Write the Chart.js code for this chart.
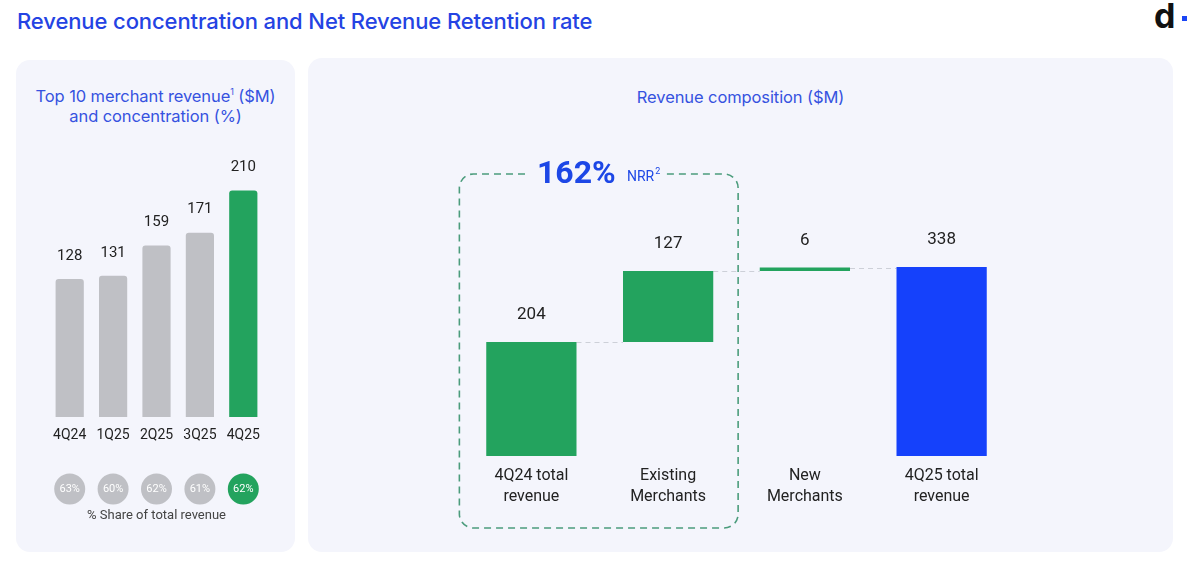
<!DOCTYPE html>
<html>
<head>
<meta charset="utf-8">
<script src="https://cdn.jsdelivr.net/npm/chart.js@4.4.1/dist/chart.umd.min.js"></script>
<style>
  html, body { margin:0; padding:0; background:#fff; width:1200px; height:567px; overflow:hidden; }
  body { position:relative; font-family: Roboto, "Noto Sans", sans-serif; }
  .title { position:absolute; left:17px; top:8px; font-family: Inter, sans-serif; font-weight:500; font-size:22px; color:#2443e3; letter-spacing:-0.1px; }
  .logo { position:absolute; left:1154px; top:-5px; font-family: Inter, sans-serif; font-weight:700; font-size:34px; color:#111; }
  .logo i { position:absolute; left:28px; top:21px; width:5px; height:5px; background:#1a45f5; }
  .panel { position:absolute; background:#f4f5fc; border-radius:14px; }
  .ptitle { position:absolute; text-align:center; font-family: Inter, sans-serif; font-size:16.5px; line-height:20px; color:#3652e0; letter-spacing:-0.1px; }
  .ptitle sup { font-size:9px; vertical-align:7px; line-height:0; }
  canvas { position:absolute; }
</style>
</head>
<body>
<div class="title">Revenue concentration and Net Revenue Retention rate</div>
<div class="logo">d<i></i></div>

<div class="panel" style="left:16px;top:60px;width:279px;height:492px;"></div>
<div class="panel" style="left:308px;top:58px;width:865px;height:494px;"></div>

<div class="ptitle" style="left:16px;top:86px;width:279px;">Top 10 merchant revenue<sup>1</sup> ($M)<br>and concentration (%)</div>
<div class="ptitle" style="left:308px;top:87px;width:865px;">Revenue composition ($M)</div>

<canvas id="left" style="left:16px;top:60px;width:279px;height:492px;"></canvas>
<canvas id="right" style="left:308px;top:58px;width:865px;height:494px;"></canvas>

<script>
// ---- data ----
const quarters = ["4Q24", "1Q25", "2Q25", "3Q25", "4Q25"];
const top10Revenue = [128, 131, 159, 171, 210];
const shareOfTotal = [63, 60, 62, 61, 62];

const wfLabels = [["4Q24 total", "revenue"], ["Existing", "Merchants"], ["New", "Merchants"], ["4Q25 total", "revenue"]];
const wfValues = [204, 127, 6, 338];
const wfIsTotal = [true, false, false, true];
const nrrPct = 162;

const GREEN = "#23a35e";
const GREY = "#bfc0c5";
const BLUE = "#1541fb";

// ---- left: top 10 merchants ----
const leftLabels = {
  id: "leftLabels",
  afterDatasetsDraw(chart) {
    const ctx = chart.ctx;
    const meta = chart.getDatasetMeta(0);
    const x = chart.scales.x;
    ctx.save();
    ctx.textAlign = "center";
    ctx.textBaseline = "middle";
    ctx.font = "15px Roboto";
    ctx.fillStyle = "#222";
    meta.data.forEach((bar, i) => {
      ctx.fillText(top10Revenue[i], bar.x, bar.y - 23);
    });
    // share circles
    shareOfTotal.forEach((v, i) => {
      const cx = x.getPixelForValue(i);
      ctx.beginPath();
      ctx.arc(cx, 429, 15.5, 0, Math.PI * 2);
      ctx.fillStyle = i === shareOfTotal.length - 1 ? GREEN : GREY;
      ctx.fill();
      ctx.fillStyle = "#fff";
      ctx.font = "11px Roboto";
      ctx.fillText(v + "%", cx, 429);
    });
    ctx.fillStyle = "#444";
    ctx.font = "13px Roboto";
    ctx.fillText("% Share of total revenue", (x.left + x.right) / 2, 456);
    ctx.restore();
  }
};

new Chart(document.getElementById("left"), {
  type: "bar",
  data: {
    labels: quarters,
    datasets: [{
      data: top10Revenue,
      backgroundColor: quarters.map((q, i) => i === quarters.length - 1 ? GREEN : GREY),
      borderRadius: { topLeft: 3, topRight: 3 },
      borderSkipped: "bottom",
      barPercentage: 0.65,
      categoryPercentage: 1
    }]
  },
  options: {
    responsive: false,
    animation: false,
    layout: { padding: { left: 32, right: 30, top: 87.5, bottom: 0 } },
    plugins: { legend: { display: false }, tooltip: { enabled: false } },
    scales: {
      x: {
        grid: { display: false },
        border: { display: false },
        ticks: { color: "#222", font: { family: "Roboto", size: 14 }, padding: 2 },
        afterFit: (axis) => { axis.height = 135; }
      },
      y: { display: false, min: 0, max: 250 }
    }
  },
  plugins: [leftLabels]
});

// ---- right: waterfall ----
const wfRanges = [];
let running = 0;
wfValues.forEach((v, i) => {
  if (wfIsTotal[i]) { wfRanges.push([0, v]); running = v; }
  else { wfRanges.push([running, running + v]); running += v; }
});

const wfDecor = {
  id: "wfDecor",
  beforeDatasetsDraw(chart) {
    const ctx = chart.ctx;
    const meta = chart.getDatasetMeta(0);
    const y = chart.scales.y;
    ctx.save();
    ctx.strokeStyle = "#cdd0d8";
    ctx.lineWidth = 1;
    ctx.setLineDash([5, 4]);
    for (let i = 0; i < meta.data.length - 1; i++) {
      const a = meta.data[i], b = meta.data[i + 1];
      const yy = Math.round(y.getPixelForValue(wfRanges[i][1])) + 0.5;
      ctx.beginPath();
      ctx.moveTo(a.x + a.width / 2, yy);
      ctx.lineTo(b.x - b.width / 2, yy);
      ctx.stroke();
    }
    ctx.restore();
  },
  afterDatasetsDraw(chart) {
    const ctx = chart.ctx;
    const meta = chart.getDatasetMeta(0);
    const x = chart.scales.x;
    ctx.save();
    ctx.textAlign = "center";
    ctx.textBaseline = "middle";
    ctx.font = "17px Roboto";
    ctx.fillStyle = "#222";
    meta.data.forEach((bar, i) => {
      const top = Math.min(bar.y, bar.base);
      ctx.fillText(wfValues[i], bar.x, top - 27);
    });

    // NRR dashed box around first two categories
    const l = x.getPixelForValue(0) - 72, r = x.getPixelForValue(1) + 70;
    const t = 116, b = 470, rad = 14;
    const gapL = 217, gapR = 357;
    ctx.strokeStyle = "#4b9c7c";
    ctx.lineWidth = 1.6;
    ctx.setLineDash([7, 5]);
    ctx.beginPath();
    ctx.moveTo(gapL, t);
    ctx.lineTo(l + rad, t);
    ctx.arcTo(l, t, l, t + rad, rad);
    ctx.lineTo(l, b - rad);
    ctx.arcTo(l, b, l + rad, b, rad);
    ctx.lineTo(r - rad, b);
    ctx.arcTo(r, b, r, b - rad, rad);
    ctx.lineTo(r, t + rad);
    ctx.arcTo(r, t, r - rad, t, rad);
    ctx.lineTo(gapR, t);
    ctx.stroke();
    ctx.setLineDash([]);

    ctx.fillStyle = "#1d47e6";
    ctx.font = "bold 32px Roboto";
    ctx.textAlign = "left";
    ctx.fillText(nrrPct + "%", 229, t + 1);
    ctx.font = "14px Roboto";
    ctx.fillText("NRR", 319, t + 3);
    const w = ctx.measureText("NRR").width;
    ctx.font = "9px Roboto";
    ctx.fillText("2", 319 + w + 1, t - 2);
    ctx.restore();
  }
};

new Chart(document.getElementById("right"), {
  type: "bar",
  data: {
    labels: wfLabels,
    datasets: [{
      data: wfRanges,
      backgroundColor: wfValues.map((v, i) => i === wfValues.length - 1 ? BLUE : GREEN),
      borderSkipped: false,
      barPercentage: 0.66,
      categoryPercentage: 1
    }]
  },
  options: {
    responsive: false,
    animation: false,
    layout: { padding: { left: 155, right: 163, top: 174.4, bottom: 0 } },
    plugins: { legend: { display: false }, tooltip: { enabled: false } },
    scales: {
      x: {
        grid: { display: false },
        border: { display: false },
        ticks: { color: "#222", font: { family: "Roboto", size: 16, lineHeight: 1.3 }, padding: 2 },
        afterFit: (axis) => { axis.height = 96; }
      },
      y: { display: false, min: 0, max: 400 }
    }
  },
  plugins: [wfDecor]
});
</script>
</body>
</html>
